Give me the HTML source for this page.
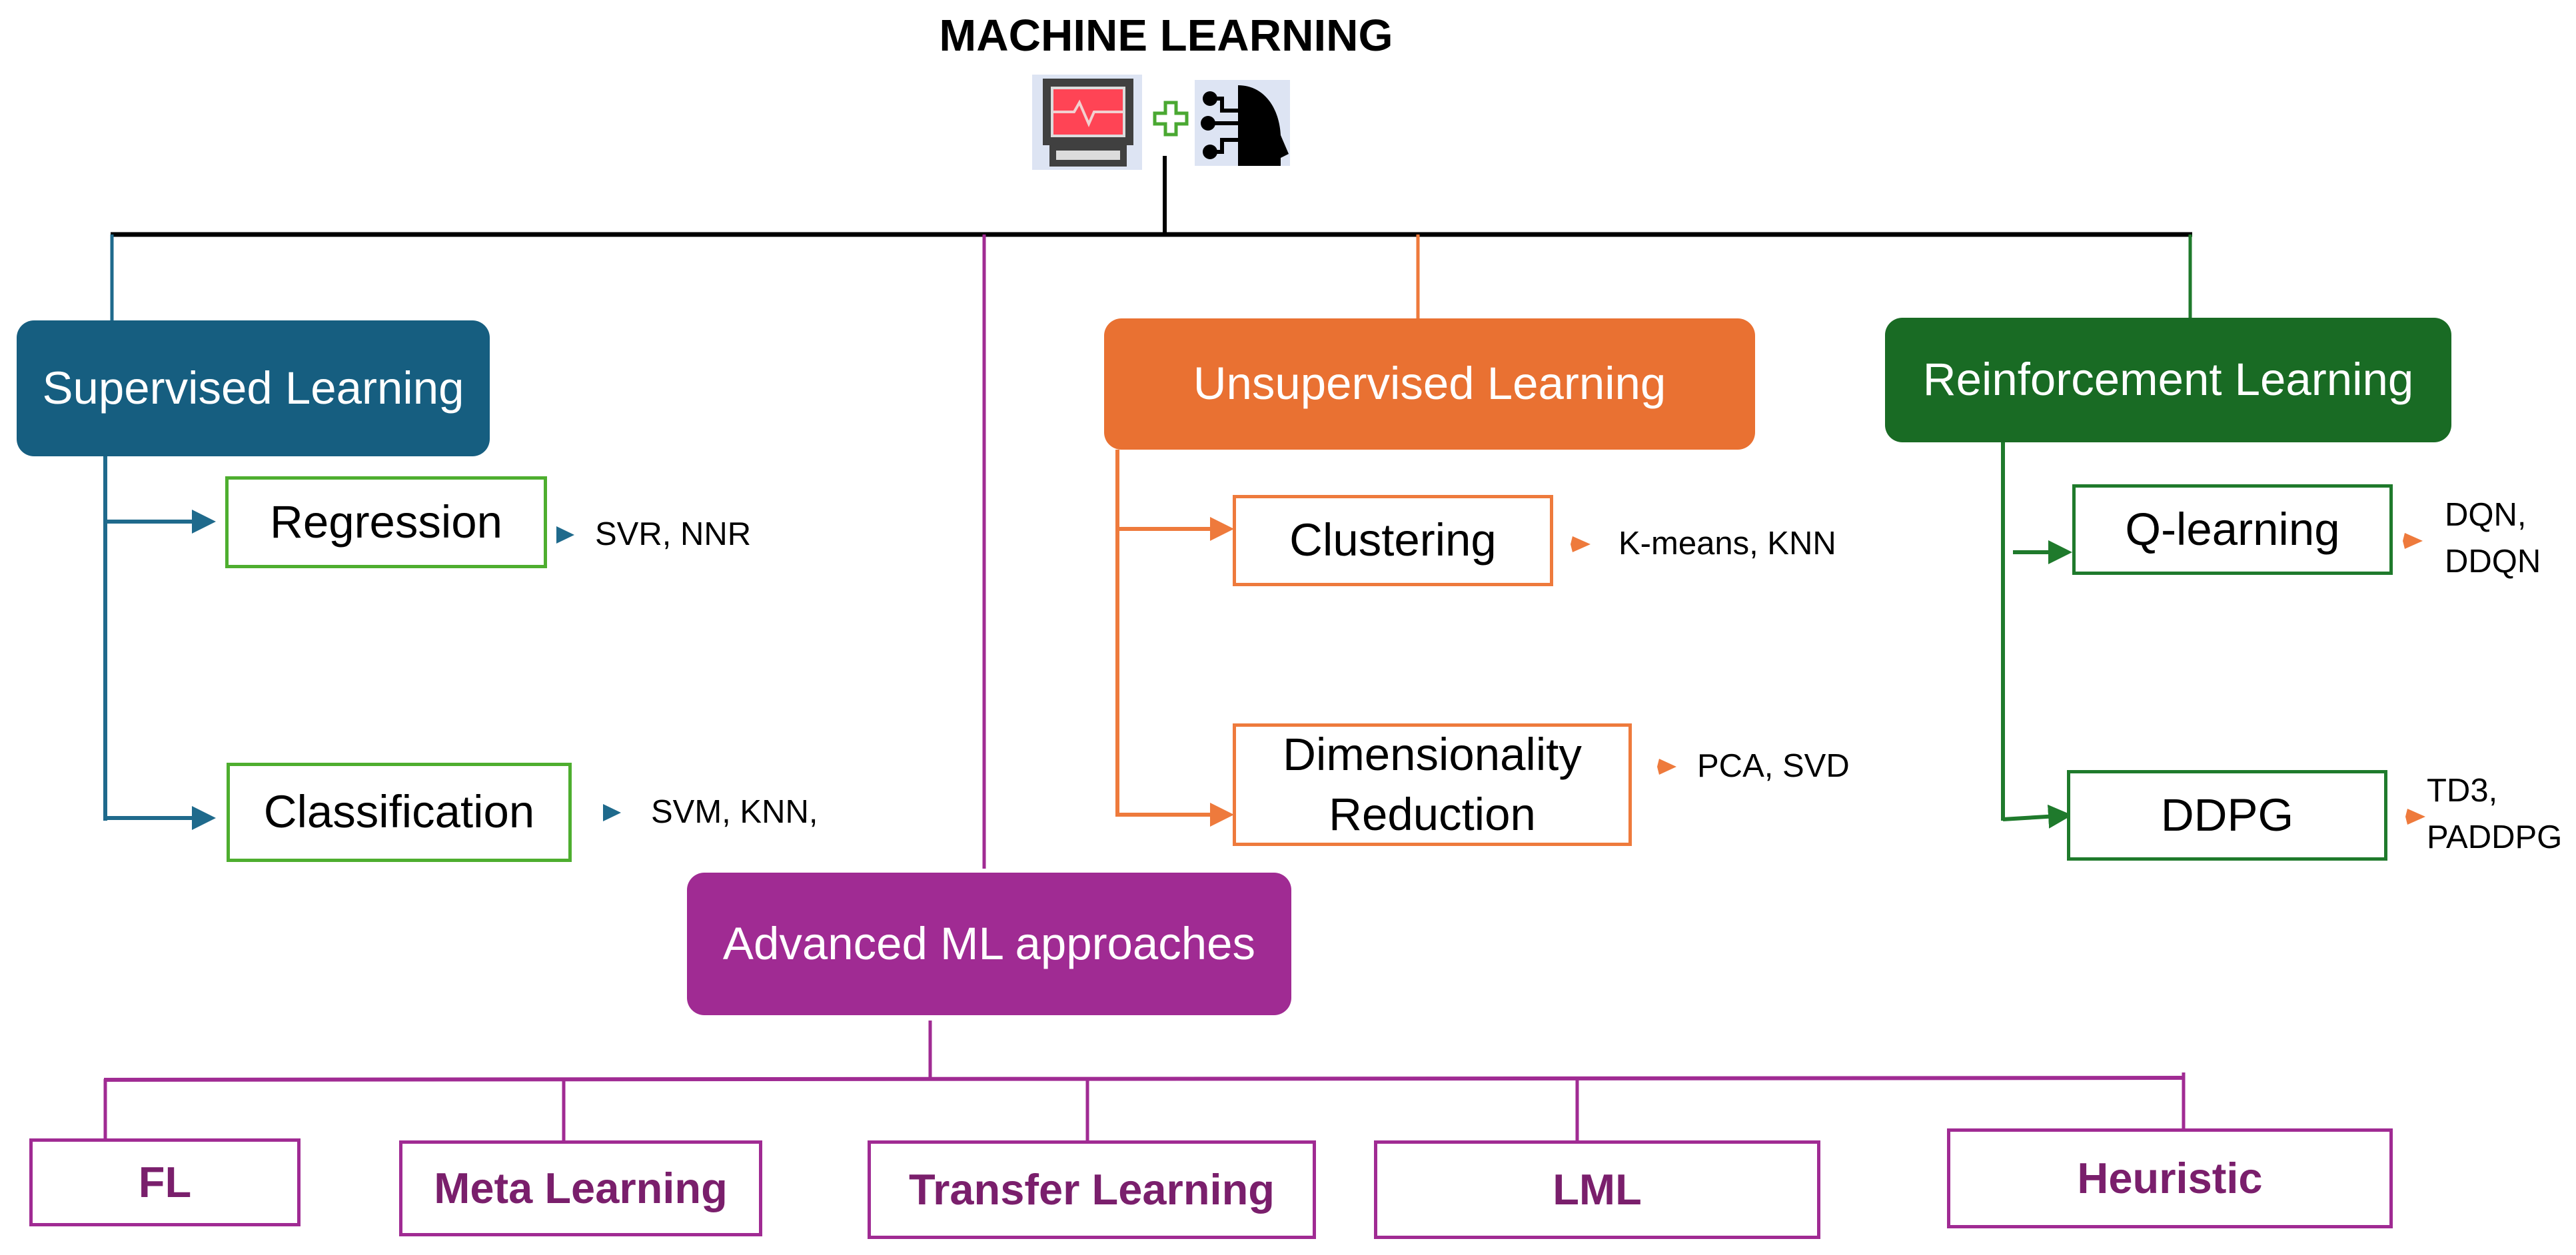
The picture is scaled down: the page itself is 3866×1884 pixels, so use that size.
<!DOCTYPE html>
<html><head><meta charset="utf-8"><style>
body{margin:0;width:3866px;height:1884px;background:#fff;position:relative;overflow:hidden;font-family:"Liberation Sans",sans-serif}
.b{position:absolute;box-sizing:border-box;display:flex;align-items:center;justify-content:center;text-align:center;line-height:1.2}
.f{color:#fff;border-radius:26px;font-size:69px}
.s{background:#fff;font-size:69px;color:#000}
.p{background:#fff;border:5px solid #a02b93;color:#7a1f6c;font-weight:bold;font-size:65px}
.t{position:absolute;font-size:49px;color:#000;line-height:1.5}
</style></head><body>
<svg width="3866" height="1884" style="position:absolute;left:0;top:0">
<defs>
<marker id="ab" markerWidth="6" markerHeight="6" refX="5" refY="3" orient="auto" markerUnits="strokeWidth"><path d="M0,0L6,3L0,6z" fill="#1f6a8c"/></marker>
<marker id="ao" markerWidth="6" markerHeight="6" refX="5" refY="3" orient="auto" markerUnits="strokeWidth"><path d="M0,0L6,3L0,6z" fill="#ee7a3c"/></marker>
<marker id="ag" markerWidth="6" markerHeight="6" refX="5" refY="3" orient="auto" markerUnits="strokeWidth"><path d="M0,0L6,3L0,6z" fill="#1f7a2c"/></marker>
</defs>
<line x1="1748" y1="234" x2="1748" y2="352" stroke="#000" stroke-width="6"/>
<line x1="166" y1="352" x2="3290" y2="352" stroke="#000" stroke-width="7"/>
<line x1="168" y1="352" x2="168" y2="481" stroke="#1f6a8c" stroke-width="5"/>
<line x1="1477" y1="352" x2="1477" y2="1304" stroke="#a02b93" stroke-width="5"/>
<line x1="2128" y1="352" x2="2128" y2="478" stroke="#ee7a3c" stroke-width="5"/>
<line x1="3287" y1="352" x2="3287" y2="477" stroke="#1f7a2c" stroke-width="5"/>
<line x1="158" y1="685" x2="158" y2="1232" stroke="#1f6a8c" stroke-width="6"/>
<line x1="158" y1="783" x2="318" y2="783" stroke="#1f6a8c" stroke-width="6" marker-end="url(#ab)"/>
<line x1="158" y1="1228" x2="318" y2="1228" stroke="#1f6a8c" stroke-width="6" marker-end="url(#ab)"/>
<path d="M835,790L862,803L835,816z" fill="#1f6a8c"/>
<path d="M905,1207L932,1220L905,1233z" fill="#1f6a8c"/>
<line x1="1677" y1="675" x2="1677" y2="1226" stroke="#ee7a3c" stroke-width="6"/>
<line x1="1677" y1="794" x2="1846" y2="794" stroke="#ee7a3c" stroke-width="6" marker-end="url(#ao)"/>
<line x1="1677" y1="1223" x2="1846" y2="1223" stroke="#ee7a3c" stroke-width="6" marker-end="url(#ao)"/>
<path d="M2357,817L2360,805L2387,817L2360,829z" fill="#ee7a3c"/>
<path d="M2487,1151L2490,1139L2516,1151L2490,1163z" fill="#ee7a3c"/>
<line x1="3006" y1="664" x2="3006" y2="1232" stroke="#1f7a2c" stroke-width="6"/>
<line x1="3021" y1="829" x2="3104" y2="829" stroke="#1f7a2c" stroke-width="6" marker-end="url(#ag)"/>
<line x1="3006" y1="1230" x2="3104" y2="1224" stroke="#1f7a2c" stroke-width="6" marker-end="url(#ag)"/>
<path d="M3606,812L3609,800L3636,812L3609,824z" fill="#ee7a3c"/>
<path d="M3610,1226L3613,1214L3640,1226L3613,1238z" fill="#ee7a3c"/>
<line x1="1396" y1="1532" x2="1396" y2="1618" stroke="#a02b93" stroke-width="5"/>
<line x1="156" y1="1621" x2="3279" y2="1618" stroke="#a02b93" stroke-width="6"/>
<line x1="158" y1="1620" x2="158" y2="1709" stroke="#a02b93" stroke-width="5"/>
<line x1="846" y1="1620" x2="846" y2="1712" stroke="#a02b93" stroke-width="5"/>
<line x1="1632" y1="1620" x2="1632" y2="1712" stroke="#a02b93" stroke-width="5"/>
<line x1="2367" y1="1620" x2="2367" y2="1712" stroke="#a02b93" stroke-width="5"/>
<line x1="3277" y1="1610" x2="3277" y2="1694" stroke="#a02b93" stroke-width="5"/>
<rect x="1549" y="112" width="165" height="143" fill="#dde4f3"/>
<rect x="1565" y="118" width="136" height="100" fill="#404040"/>
<rect x="1577" y="130" width="112" height="76" fill="#dcdcdc"/>
<rect x="1581" y="134" width="104" height="68" fill="#ff4455"/>
<polyline points="1581,168 1612,168 1620,154 1634,186 1642,168 1685,168" fill="none" stroke="#f2d0d0" stroke-width="4"/>
<rect x="1575" y="218" width="116" height="32" fill="#404040"/>
<rect x="1585" y="226" width="96" height="14" fill="#dcdcdc"/>
<path d="M1749,154h16v16h16v16h-16v16h-16v-16h-16v-16h16z" fill="none" stroke="#4aa832" stroke-width="5"/>
<rect x="1793" y="120" width="143" height="129" fill="#dde4f3"/>
<path d="M1858,128c40,0,62,35,64,75l12,28l-12,6v12h-64z" fill="#000"/>
<circle cx="1816" cy="148" r="11" fill="#000"/><path d="M1816,148h18v18h24" fill="none" stroke="#000" stroke-width="6"/>
<circle cx="1813" cy="185" r="11" fill="#000"/><path d="M1813,185h45" fill="none" stroke="#000" stroke-width="6"/>
<circle cx="1816" cy="228" r="11" fill="#000"/><path d="M1816,228h18v-18h24" fill="none" stroke="#000" stroke-width="6"/>
</svg>

<div class="b" style="left:1350px;top:20px;width:800px;height:68px;font-weight:bold;font-size:67px;color:#000">MACHINE LEARNING</div>

<div class="b f" style="left:25px;top:481px;width:710px;height:204px;background:#165e80">Supervised Learning</div>
<div class="b f" style="left:1657px;top:478px;width:977px;height:197px;background:#e97132">Unsupervised Learning</div>
<div class="b f" style="left:2829px;top:477px;width:850px;height:187px;background:#196b24">Reinforcement Learning</div>
<div class="b f" style="left:1031px;top:1310px;width:907px;height:214px;background:#a02b93">Advanced ML approaches</div>

<div class="b s" style="left:338px;top:715px;width:483px;height:138px;border:5px solid #4eae2f">Regression</div>
<div class="b s" style="left:340px;top:1145px;width:518px;height:149px;border:5px solid #4eae2f">Classification</div>
<div class="b s" style="left:1850px;top:743px;width:481px;height:137px;border:5px solid #ee7a3c">Clustering</div>
<div class="b s" style="left:1850px;top:1086px;width:599px;height:184px;border:5px solid #ee7a3c;line-height:1.3">Dimensionality<br>Reduction</div>
<div class="b s" style="left:3110px;top:727px;width:481px;height:136px;border:5px solid #1f7a2c">Q-learning</div>
<div class="b s" style="left:3102px;top:1156px;width:481px;height:136px;border:5px solid #1f7a2c">DDPG</div>

<div class="t" style="left:893px;top:766px">SVR, NNR</div>
<div class="t" style="left:977px;top:1183px">SVM, KNN,</div>
<div class="t" style="left:2429px;top:780px">K-means, KNN</div>
<div class="t" style="left:2547px;top:1114px">PCA, SVD</div>
<div class="t" style="left:3669px;top:738px;line-height:70px">DQN,<br>DDQN</div>
<div class="t" style="left:3642px;top:1152px;line-height:70px">TD3,<br>PADDPG</div>

<div class="b p" style="left:44px;top:1709px;width:407px;height:132px">FL</div>
<div class="b p" style="left:599px;top:1712px;width:545px;height:144px">Meta Learning</div>
<div class="b p" style="left:1302px;top:1712px;width:673px;height:148px">Transfer Learning</div>
<div class="b p" style="left:2062px;top:1712px;width:670px;height:148px">LML</div>
<div class="b p" style="left:2922px;top:1694px;width:669px;height:150px">Heuristic</div>
</body></html>
